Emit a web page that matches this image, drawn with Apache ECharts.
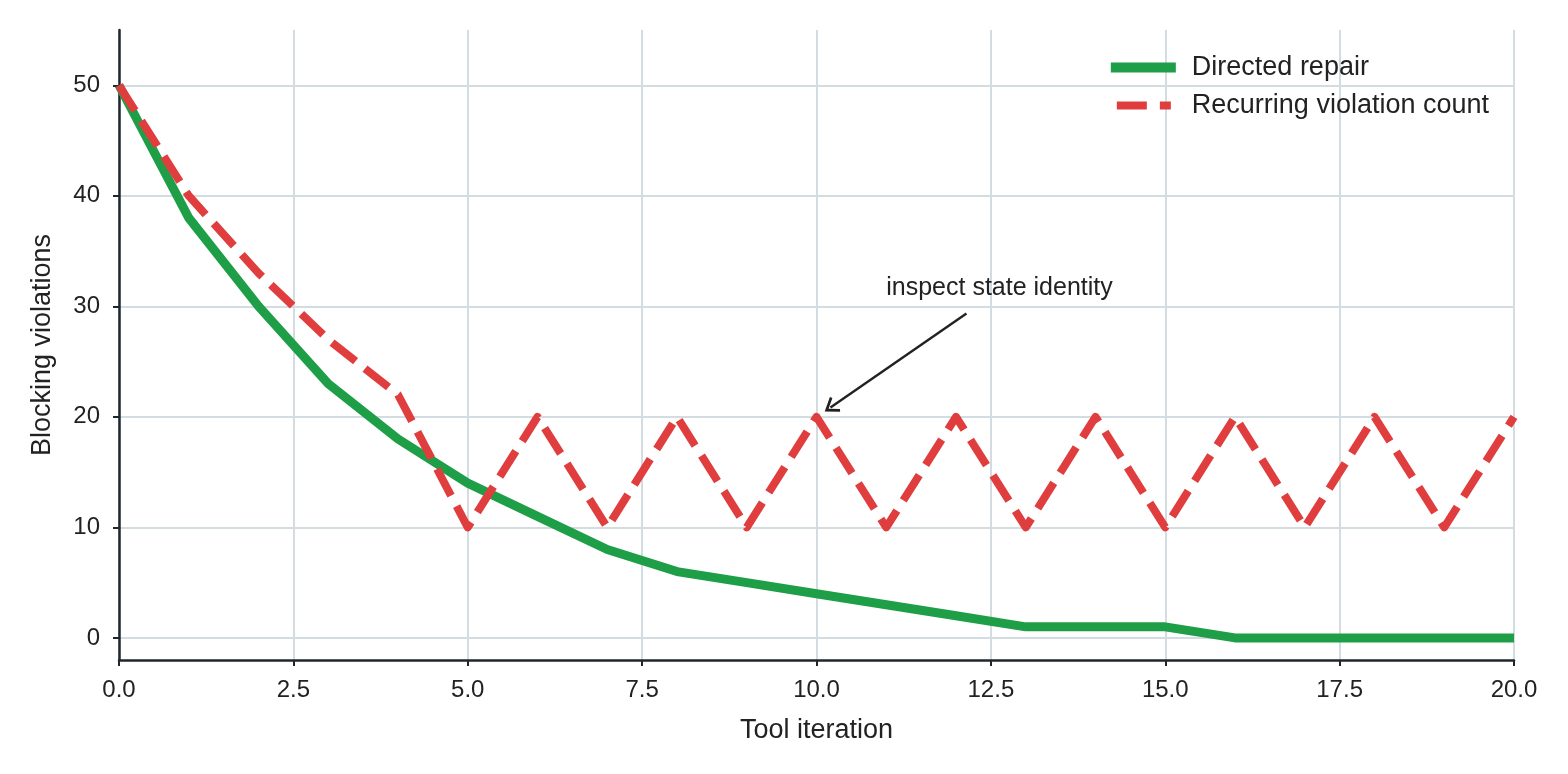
<!DOCTYPE html>
<html>
<head>
<meta charset="utf-8">
<script src="https://cdn.jsdelivr.net/npm/echarts@6/dist/echarts.min.js"></script>
<style>
  html, body { margin: 0; padding: 0; background: #fff; }
  #chart { width: 1568px; height: 774px; }
</style>
</head>
<body>
<div id="chart"></div>
<script>
// data
const iterations = [0, 1, 2, 3, 4, 5, 6, 7, 8, 9, 10, 11, 12, 13, 14, 15, 16, 17, 18, 19, 20];
const directedRepair = [50, 38, 30, 23, 18, 14, 11, 8, 6, 5, 4, 3, 2, 1, 1, 1, 0, 0, 0, 0, 0];
const recurringCount = [50, 40, 33, 27, 22, 10, 20, 10, 20, 10, 20, 10, 20, 10, 20, 10, 20, 10, 20, 10, 20];
const yTicks = [0, 10, 20, 30, 40, 50];
const annotationText = "inspect state identity";
const annotationXY = [10, 20];

const font = "Liberation Sans";
const ink = "#222222";
const axisInk = "#1f262c";
const gridColor = "#d3dce1";
const green = "#1f9e48";
const red = "#e03e3e";

function pairs(ys) {
  return iterations.map((x, i) => [x, ys[i]]);
}

let chart = echarts.init(document.getElementById("chart"));
let option = {
  animation: false,
  textStyle: { fontFamily: font, color: ink },
  grid: { left: 119, right: 54, top: 30, bottom: 114, containLabel: false },
  legend: {
    orient: "vertical",
    right: 74,
    top: 49,
    itemWidth: 65,
    itemHeight: 10,
    itemGap: 11,
    symbolKeepAspect: false,
    selectedMode: false,
    textStyle: { fontFamily: font, fontSize: 27, color: ink, padding: [0, 0, 0, 11] },
    data: [
      { name: "Directed repair", icon: "path://M0,0 H65 V10 H0 Z" },
      // dashed swatch, same box as the solid one
      { name: "Recurring violation count", icon: "path://M0,0 M65,10 M6,1 H36 V9 H6 Z M49,1 H60 V9 H49 Z" }
    ]
  },
  xAxis: {
    type: "value",
    min: 0,
    max: 20,
    interval: 2.5,
    name: "Tool iteration",
    nameLocation: "middle",
    nameGap: 57,
    nameTextStyle: { fontFamily: font, fontSize: 27, color: ink },
    axisLine: { show: true, onZero: false, lineStyle: { color: axisInk, width: 2.5 } },
    axisTick: { show: true, length: 6, lineStyle: { color: axisInk, width: 2 } },
    axisLabel: {
      margin: 18,
      fontSize: 24,
      color: ink,
      fontFamily: font,
      formatter: v => v.toFixed(1)
    },
    splitLine: { show: true, lineStyle: { color: gridColor, width: 2 } }
  },
  yAxis: {
    type: "value",
    min: -2,
    max: 55,
    name: "Blocking violations",
    nameLocation: "middle",
    nameGap: 63,
    nameTextStyle: { fontFamily: font, fontSize: 27, color: ink },
    axisLine: { show: true, onZero: false, lineStyle: { color: axisInk, width: 2.5 } },
    axisTick: { show: true, length: 6, customValues: yTicks, lineStyle: { color: axisInk, width: 2 } },
    axisLabel: { margin: 19, fontSize: 24, color: ink, fontFamily: font, customValues: yTicks, padding: [3, 0, 0, 0] },
    splitLine: { show: true, lineStyle: { color: gridColor, width: 2 } }
  },
  series: [
    {
      name: "Directed repair",
      type: "line",
      symbol: "none",
      data: pairs(directedRepair),
      lineStyle: { color: green, width: 9, cap: "butt", join: "round" },
      itemStyle: { color: green },
      z: 2
    },
    {
      name: "Recurring violation count",
      type: "line",
      symbol: "none",
      data: pairs(recurringCount),
      lineStyle: { color: red, width: 8, type: [30, 12], cap: "butt", join: "round" },
      itemStyle: { color: red },
      z: 3,
      markLine: {
        silent: true,
        animation: false,
        // open "->" style head, tip at the top of the path
        symbol: ["none", "path://M0,10 L7,0 L14,10 L12.2,11.2 L7,3.8 L1.8,11.2 Z"],
        symbolSize: [18, 14],
        lineStyle: { color: ink, width: 2.4, type: "solid" },
        label: { show: false },
        data: [[
          { coord: [12.15, 29.35] },
          { coord: [annotationXY[0] + 0.2, annotationXY[1] + 0.85] }
        ]]
      },
      markPoint: {
        silent: true,
        animation: false,
        symbol: "circle",
        symbolSize: 0,
        data: [{
          coord: [11, 31],
          label: {
            show: true,
            formatter: annotationText,
            position: [0, 0],
            align: "left",
            verticalAlign: "bottom",
            offset: [0, 5],
            fontFamily: font,
            fontSize: 25,
            color: ink
          }
        }]
      }
    }
  ]
};
chart.setOption(option);
</script>
</body>
</html>
